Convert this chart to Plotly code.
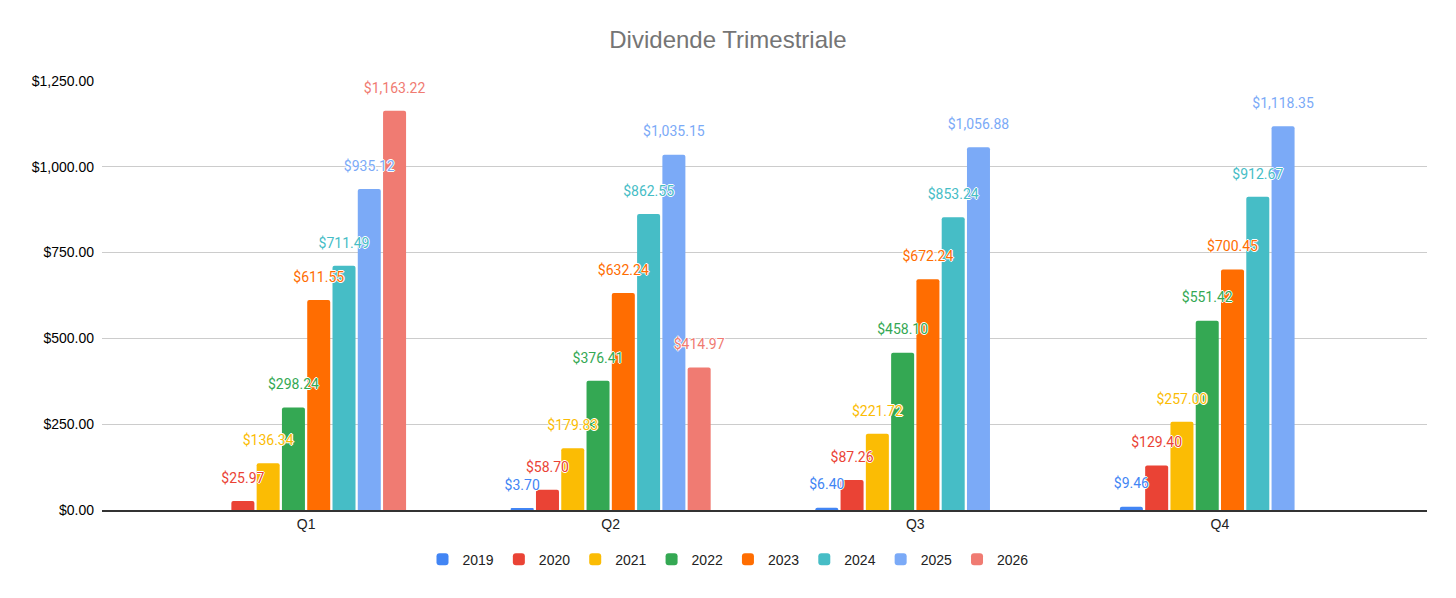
import plotly.graph_objects as go

# Quarterly dividends per year (None = no payment recorded)
quarters = ["Q1", "Q2", "Q3", "Q4"]
years = ["2019", "2020", "2021", "2022", "2023", "2024", "2025", "2026"]

div_2019 = [None, 3.70, 6.40, 9.46]
div_2020 = [25.97, 58.70, 87.26, 129.40]
div_2021 = [136.34, 179.83, 221.72, 257.00]
div_2022 = [298.24, 376.41, 458.10, 551.42]
div_2023 = [611.55, 632.24, 672.24, 700.45]
div_2024 = [711.49, 862.55, 853.24, 912.67]
div_2025 = [935.12, 1035.15, 1056.88, 1118.35]
div_2026 = [1163.22, 414.97, None, None]

series = [div_2019, div_2020, div_2021, div_2022, div_2023, div_2024, div_2025, div_2026]
colors = ["#4285F4", "#EA4335", "#FBBC04", "#34A853", "#FF6D01", "#46BDC6", "#7BAAF7", "#F07B72"]

halo = "white 1px 0px 0px, white -1px 0px 0px, white 0px 1px 0px, white 0px -1px 0px"

fig = go.Figure()

# the bars themselves
for year, vals, col in zip(years, series, colors):
    fig.add_trace(go.Bar(
        x=quarters, y=vals, name=year, offsetgroup=year,
        marker=dict(color=col, line=dict(width=0)),
        hoverinfo="x+y+name",
    ))

# labels as grouped scatter text on top of all bars; the invisible marker
# size sets how far above the bar top the label sits
for year, vals, col in zip(years, series, colors):
    labels = [None if v is None else f"${v:,.2f}" for v in vals]
    fig.add_trace(go.Scatter(
        x=quarters, y=vals, name=year, offsetgroup=year, showlegend=False,
        mode="markers+text", marker=dict(size=22, opacity=0),
        text=labels, textposition="top center", cliponaxis=False,
        textfont=dict(family="Roboto", size=14, color=col, shadow=halo),
        hoverinfo="skip",
    ))

fig.update_layout(
    width=1440, height=582,
    margin=dict(l=94, r=21, t=73, b=79),
    paper_bgcolor="white", plot_bgcolor="white",
    barmode="group", bargap=0.336, bargroupgap=0.09, barcornerradius=2,
    scattermode="group", scattergap=0.336,
    title=dict(text="Dividende Trimestriale", x=0.5, xanchor="center", y=0.945, yanchor="middle",
               font=dict(family="Liberation Sans, Arial", size=24, color="#757575")),
    font=dict(family="Liberation Sans, Arial", size=14, color="#222222"),
    xaxis=dict(range=[-0.67, 3.68], showgrid=False, showline=True, linecolor="#333333",
               linewidth=2, ticks="", tickfont=dict(size=14, color="#222222")),
    yaxis=dict(range=[0, 1250], tickvals=[0, 250, 500, 750, 1000, 1250], tickformat="$,.2f",
               gridcolor="#cccccc", gridwidth=1, zeroline=False, showline=False,
               ticks="", ticklabelstandoff=7, tickfont=dict(size=14, color="#000000")),
    legend=dict(orientation="h", xref="container", x=0.5, xanchor="center",
                yref="container", y=0.052, yanchor="middle",
                font=dict(size=14, color="#222222")),
    showlegend=True,
)

fig.write_html("out.html")
